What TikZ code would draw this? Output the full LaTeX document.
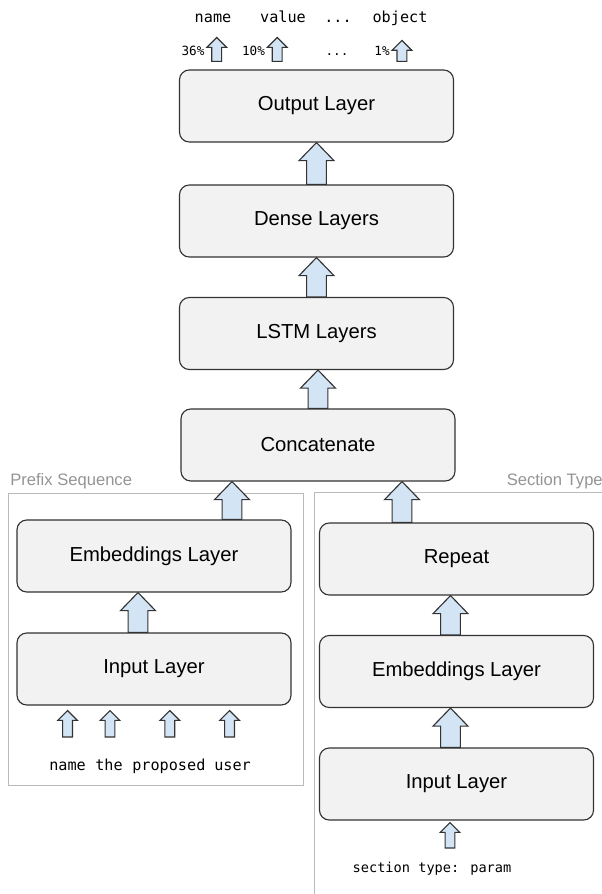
\documentclass[tikz,border=0pt]{standalone}
\usepackage{fontspec}
\setmainfont{Liberation Sans}
\newfontfamily\monofont{DejaVu Sans Mono}
\usetikzlibrary{calc}
\definecolor{flowblue}{HTML}{D3E4F5}
\newcommand\threedots{...}
\tikzstyle{layer}=[draw=black!80, fill=black!5, line width=0.8pt, rounded corners=7pt, minimum width=6.85cm, minimum height=1.8cm, font=\fontsize{14.4}{17}\selectfont]
\tikzstyle{group}=[draw=black!27, line width=0.7pt]
\tikzstyle{group title}=[text=black!42, inner sep=0pt, font=\fontsize{11.8}{14}\selectfont]
\tikzstyle{token}=[inner sep=0pt, font=\monofont\fontsize{10.8}{13}\selectfont]
\tikzstyle{score}=[inner sep=0pt, font=\monofont\fontsize{9}{11}\selectfont]
\tikzstyle{flow}=[draw=black!80, fill=flowblue, line width=0.8pt, line join=miter]
% big block arrow: tail point, tip point (only its y is used)
\newcommand\flowarrow[2]{%
  \path[flow] let \p1=#1, \p2=#2 in
    ({\x1-7pt},\y1) -- ({\x1-7pt},{\y2-12.8pt}) -- ({\x1-12.4pt},{\y2-12.8pt}) -- (\x1,\y2)
    -- ({\x1+12.4pt},{\y2-12.8pt}) -- ({\x1+7pt},{\y2-12.8pt}) -- ({\x1+7pt},\y1) -- cycle;}
% small block arrow for the tokens
\newcommand\tokenarrow[2]{%
  \path[flow] let \p1=#1, \p2=#2 in
    ({\x1-3.5pt},\y1) -- ({\x1-3.5pt},{\y2-7pt}) -- ({\x1-7pt},{\y2-7pt}) -- (\x1,\y2)
    -- ({\x1+7pt},{\y2-7pt}) -- ({\x1+3.5pt},{\y2-7pt}) -- ({\x1+3.5pt},\y1) -- cycle;}
\begin{document}
\begin{tikzpicture}[x=0.025cm, y=-0.025cm]
  \useasboundingbox (0,0) rectangle (601,894);

  % The main stack
  \foreach \pos/\name/\txt in {{(316.5,106)/out/Output Layer}, {(316.5,221)/dense/Dense Layers},
      {(316.5,333.5)/lstm/LSTM Layers}, {(318,445)/cat/Concatenate}} {
    \node[layer] (\name) at \pos {\txt};
  }

  % The two input branches
  \foreach \pos/\name/\txt in {{(154,556)/lemb/Embeddings Layer}, {(154,669)/lin/Input Layer},
      {(456.5,559)/rrep/Repeat}, {(456.5,671.5)/remb/Embeddings Layer}, {(456.5,784)/rin/Input Layer}} {
    \node[layer] (\name) at \pos {\txt};
  }

  % Group frames
  \draw[group] (8,493) rectangle (303,785);
  \draw[group] (610,492) -- (314,492) -- (314,900);
  \node[group title, anchor=base west] (prefix) at (10,485) {Prefix Sequence};
  \node[group title, anchor=base east] (section) at (603,485) {Section Type};

  % Output scores
  \foreach \pos/\name/\txt in {{(213,22)/n1/name}, {(283,22)/n2/value}, {(338,22)/n3/\threedots}, {(400,22)/n4/object}}
    \node[token, anchor=base] (\name) at \pos {\txt};
  \foreach \pos/\name/\txt in {{(193,55)/s1/36\%}, {(253.5,55)/s2/10\%}, {(337,55)/s3/\threedots}, {(382,55)/s4/1\%}}
    \node[score, anchor=base] (\name) at \pos {\txt};
  \foreach \sc/\lb in {s1/n1, s2/n2, s4/n4}
    \tokenarrow{($(out.north -| \sc.east)+(12,-8)$)}{($(\lb.south)+(0,15)$)};

  % Input tokens
  \foreach \pos/\name/\txt in {{(49,770)/w1/name}, {(95,770)/w2/the}, {(132,770)/w3/proposed}, {(214,770)/w4/user}}
    \node[token, anchor=base west] (\name) at \pos {\txt};
  \foreach \w/\dx in {w1/0, w2/1, w3/1, w4/-3}
    \tokenarrow{($(\w.base)+(\dx,-33)$)}{($(lin.south)+(0,5)$)};
  \node[token, anchor=base, font=\monofont\fontsize{9.7}{12}\selectfont] (stype) at (432,872) {section type: param};
  \tokenarrow{($(stype.base)+(18,-24)$)}{($(rin.south)+(0,2)$)};

  % Connections
  \foreach \source/\dest in {cat/lstm, lstm/dense, dense/out}
    \flowarrow{(\source.north)}{(\dest.south)};
  \flowarrow{($(lemb.north)+(78,0)$)}{(cat.south)};
  \flowarrow{($(rrep.north)+(-54.5,0)$)}{(cat.south)};
  \flowarrow{($(lin.north)+(-16,0)$)}{(lemb.south)};
  \foreach \source/\dest in {rin/remb, remb/rrep}
    \flowarrow{($(\source.north)+(-6,0)$)}{(\dest.south)};

\end{tikzpicture}
\end{document}
